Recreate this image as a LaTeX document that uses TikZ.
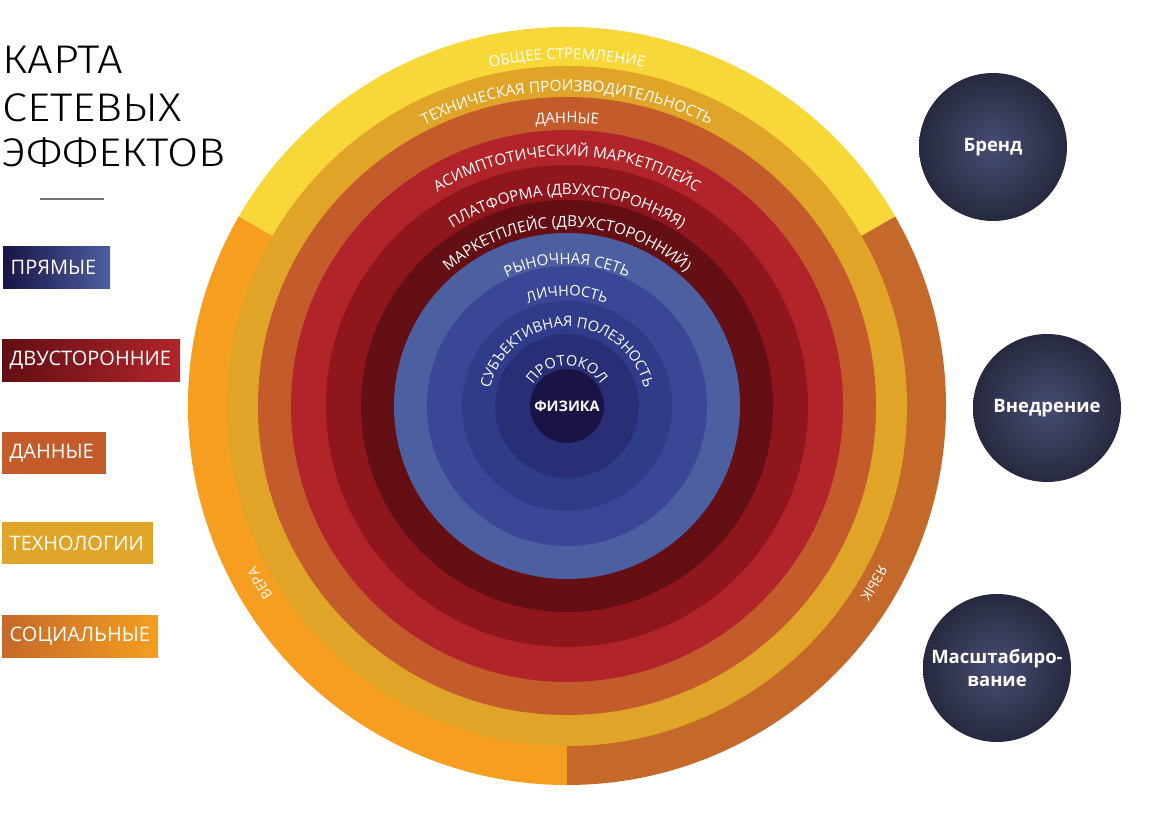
\documentclass[tikz,border=0pt]{standalone}
\usepackage{fontspec}
\setmainfont{Open Sans}
\newfontfamily\TitleFont[FakeStretch=1.13]{Fira Sans Light}
\usetikzlibrary{calc,decorations.text}

\definecolor{OuterYellow}{HTML}{F8D838}
\definecolor{OuterOrange}{HTML}{F59E1F}
\definecolor{OuterBrown}{HTML}{C4692A}
\definecolor{TechGold}{HTML}{E0A428}
\definecolor{DataBrown}{HTML}{C45B2A}
\definecolor{RedA}{HTML}{B1252A}
\definecolor{RedB}{HTML}{8F161D}
\definecolor{RedC}{HTML}{630F14}
\definecolor{BlueA}{HTML}{4C5FA0}
\definecolor{BlueB}{HTML}{3A4796}
\definecolor{BlueC}{HTML}{2F3C89}
\definecolor{BlueD}{HTML}{282F76}
\definecolor{Core}{HTML}{1A1446}
\definecolor{BallCenter}{HTML}{474D72}
\definecolor{BallEdge}{HTML}{262A40}

\def\ROuter{379}
\def\RInner{340}

\tikzset{
  ringlabel/.style 2 args={decorate,decoration={text along path,text align=center,
    text={|\color{white}\fontsize{#2pt}{#2pt}\selectfont|#1}}},
  legend/.style={anchor=north west,minimum height=42pt,inner xsep=7.5pt,inner ysep=0pt,
    align=left,text=white,font=\fontsize{20pt}{20pt}\selectfont},
  effect/.style={circle,minimum size=148pt,inner sep=0pt,shading=radial,
    inner color=BallCenter,outer color=BallEdge,text=white,align=center,
    font=\bfseries\fontsize{18.5pt}{23pt}\selectfont},
  heading/.style={anchor=base west,inner sep=0pt,font=\TitleFont\fontsize{40pt}{46pt}\selectfont}
}

\begin{document}
\begin{tikzpicture}[x=1pt,y=1pt]
\fill[white] (0,0) rectangle (1152,815);
\useasboundingbox (0,0) rectangle (1152,815);

\coordinate (c) at (567,409);

% outer band in three parts
\fill[OuterYellow] (c) -- ($(c)+(30:\ROuter)$) arc[start angle=30,end angle=150,radius=\ROuter] -- cycle;
\fill[OuterOrange] (c) -- ($(c)+(150:\ROuter)$) arc[start angle=150,end angle=270,radius=\ROuter] -- cycle;
\fill[OuterBrown] (c) -- ($(c)+(270:\ROuter)$) arc[start angle=270,end angle=390,radius=\ROuter] -- cycle;

\foreach \R/\Col in {\RInner/TechGold,309/DataBrown,276/RedA,241/RedB,206/RedC,
                     173/BlueA,140/BlueB,105/BlueC,72/BlueD,37/Core}
  \fill[\Col] (c) circle[radius=\R];

\path[ringlabel={ОБЩЕЕ СТРЕМЛЕНИЕ}{15}] ($(c)+(175:347)$) arc[start angle=175,end angle=5,radius=347];
\path[ringlabel={ТЕХНИЧЕСКАЯ ПРОИЗВОДИТЕЛЬНОСТЬ}{15.3}] ($(c)+(175:315)$) arc[start angle=175,end angle=5,radius=315];
\path[ringlabel={ДАННЫЕ}{15}] ($(c)+(175:283)$) arc[start angle=175,end angle=5,radius=283];
\path[ringlabel={АСИМПТОТИЧЕСКИЙ МАРКЕТПЛЕЙС}{15.3}] ($(c)+(175:250)$) arc[start angle=175,end angle=5,radius=250];
\path[ringlabel={ПЛАТФОРМА (ДВУХСТОРОННЯЯ)}{15.3}] ($(c)+(175:211)$) arc[start angle=175,end angle=5,radius=211];
\path[ringlabel={МАРКЕТПЛЕЙС (ДВУХСТОРОННИЙ)}{15.3}] ($(c)+(175:179)$) arc[start angle=175,end angle=5,radius=179];
\path[ringlabel={РЫНОЧНАЯ СЕТЬ}{15}] ($(c)+(175:142)$) arc[start angle=175,end angle=5,radius=142];
\path[ringlabel={ЛИЧНОСТЬ}{14.5}] ($(c)+(175:110)$) arc[start angle=175,end angle=5,radius=110];
\path[ringlabel={СУБЪЕКТИВНАЯ ПОЛЕЗНОСТЬ}{14.5}] ($(c)+(179:79)$) arc[start angle=179,end angle=1,radius=79];
\path[ringlabel={ПРОТОКОЛ}{14.5}] ($(c)+(179:40)$) arc[start angle=179,end angle=1,radius=40];
\path[ringlabel={ВЕРА}{14}] ($(c)+(240:350)$) arc[start angle=240,end angle=180,radius=350];
\path[ringlabel={ЯЗЫК}{14}] ($(c)+(360:350)$) arc[start angle=360,end angle=300,radius=350];

\node[text=white,font=\bfseries\fontsize{14.5pt}{15pt}\selectfont] (core) at (c) {ФИЗИКА};

% title and legend
\node[heading] (t1) at (2,741) {КАРТА};
\node[heading] (t2) at (2,693) {СЕТЕВЫХ};
\node[heading] (t3) at (2,648) {ЭФФЕКТОВ};
\draw[black!55,line width=2pt] (40,616) -- (104,616);

\node[legend,text width=92pt,left color=Core,right color=BlueA] (direct) at (3,569) {ПРЯМЫЕ};
\node[legend,text width=163pt,left color=RedC,right color=RedA] (twosided) at (2,476) {ДВУСТОРОННИЕ};
\node[legend,text width=89pt,fill=DataBrown] (data) at (2,383) {ДАННЫЕ};
\node[legend,text width=136pt,fill=TechGold] (tech) at (2,293) {ТЕХНОЛОГИИ};
\node[legend,text width=141pt,left color=OuterBrown,right color=OuterOrange] (social) at (2,200) {СОЦИАЛЬНЫЕ};

% right side
\node[effect] (brand) at (993,668) {Бренд};
\node[effect] (adopt) at (1047,407) {Внедрение};
\node[effect] (scale) at (997,147) {Масштабиро-\\вание};
\end{tikzpicture}
\end{document}
